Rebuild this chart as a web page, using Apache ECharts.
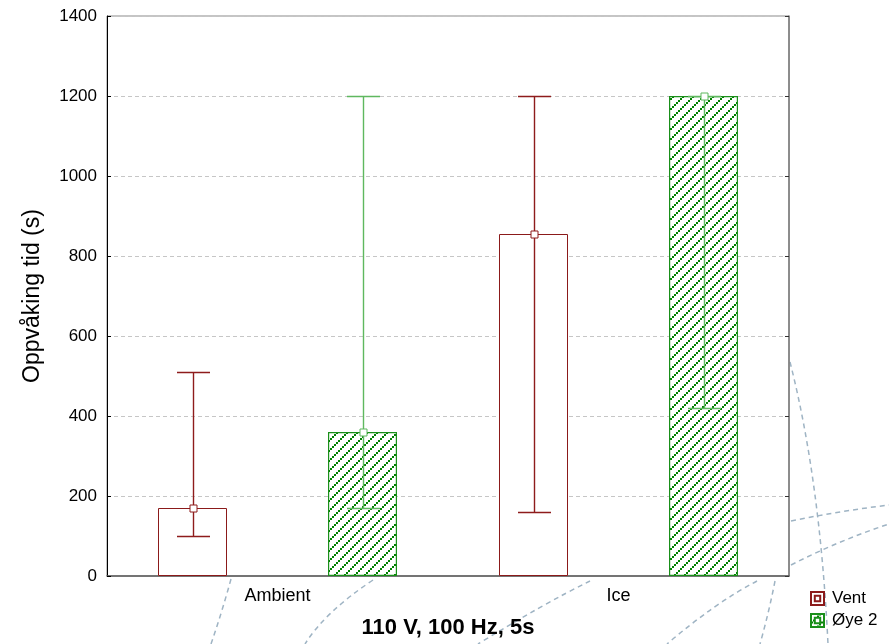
<!DOCTYPE html>
<html>
<head>
<meta charset="utf-8">
<script src="https://cdn.jsdelivr.net/npm/echarts@6/dist/echarts.min.js"></script>
<style>
html,body{margin:0;padding:0;background:#fff;}
#chart{width:889px;height:644px;}
</style>
</head>
<body>
<div id="chart"></div>
<script>
// ---- data ----
const categories = ['Ambient', 'Ice'];
const seriesNames = ['Vent', 'Øye 2'];
const ventMean = [170, 855];
const ventLow = [100, 160];
const ventHigh = [510, 1200];
const oyeMean = [360, 1200];
const oyeLow = [170, 420];
const oyeHigh = [1200, 1200];
const yTicks = { min: 0, max: 1400, interval: 200 };
const yTitle = 'Oppvåking tid (s)';
const xTitle = '110 V, 100 Hz, 5s';

// ---- styles ----
const FONT = '"Liberation Sans", Arial, sans-serif';
const RED = '#8b1a1a';
const RED_WHISK = '#8e1c1c';
const GREEN = '#1a8f1a';
const GREEN_WHISK = '#5fb85f';
const BAR_W = 69;
const BAR_GAP_PX = 101;
const OFFSET = (BAR_W + BAR_GAP_PX) / 2;
const CAP_W = 33;

function makePattern() {
  const n = 10;
  const c = document.createElement('canvas');
  c.width = n; c.height = n;
  const g = c.getContext('2d');
  g.fillStyle = '#ffffff';
  g.fillRect(0, 0, n, n);
  g.fillStyle = '#008000';
  [[0, 8], [2, 6], [4, 4], [6, 2], [8, 0]].forEach(p => g.fillRect(p[0], p[1], 2, 2));
  return c;
}
const hatch = { image: makePattern(), repeat: 'repeat' };

function errRender(sign, stroke) {
  return function (params, api) {
    const cat = api.value(0);
    const lo = api.coord([cat, api.value(1)]);
    const hi = api.coord([cat, api.value(2)]);
    const mid = api.coord([cat, api.value(3)]);
    const x = Math.round(lo[0] + sign * OFFSET) + 0.5;
    const hw = CAP_W / 2;
    const ly = Math.round(lo[1]) + 0.5, hy = Math.round(hi[1]) + 0.5, my = Math.round(mid[1]) + 0.5;
    return {
      type: 'group',
      children: [
        { type: 'line', shape: { x1: x, y1: hy, x2: x, y2: ly }, style: { stroke: stroke, lineWidth: 1.4 } },
        { type: 'line', shape: { x1: x - hw, y1: hy, x2: x + hw, y2: hy }, style: { stroke: stroke, lineWidth: 1.4 } },
        { type: 'line', shape: { x1: x - hw, y1: ly, x2: x + hw, y2: ly }, style: { stroke: stroke, lineWidth: 1.4 } },
        { type: 'rect', shape: { x: x - 3.5, y: my - 3.5, width: 7, height: 7 }, style: { fill: '#fff', stroke: stroke, lineWidth: 1 } }
      ]
    };
  };
}

function curve(x1, y1, cx, cy, x2, y2) {
  return {
    type: 'bezierCurve', silent: true, z: -10,
    shape: { x1: x1, y1: y1, cpx1: cx, cpy1: cy, x2: x2, y2: y2 },
    style: { stroke: '#9fb4c4', lineWidth: 1.5, lineDash: [5, 4], fill: null }
  };
}

const LEGEND_ICON = 'path://M0,0H12V12H0Z M3.5,3.5V8.5H8.5V3.5Z';

const chart = echarts.init(document.getElementById('chart'), null, { renderer: 'canvas' });
const option = {
  animation: false,
  backgroundColor: '#ffffff',
  textStyle: { fontFamily: FONT },
  grid: { left: 107, right: 100, top: 16, bottom: 67, show: true, borderColor: '#8a8a8a', borderWidth: 1, backgroundColor: 'transparent' },
  legend: {
    orient: 'vertical', left: 805, top: 585, itemWidth: 13, itemHeight: 14, itemGap: 5,
    selectedMode: false, icon: LEGEND_ICON,
    textStyle: { fontSize: 17, color: '#000', fontFamily: FONT, padding: [0, 0, 0, 3] },
    data: seriesNames
  },
  xAxis: {
    type: 'category', data: categories,
    axisLine: { lineStyle: { color: '#5a5a5a', width: 1.5 } },
    axisTick: { inside: true, alignWithLabel: true, length: 4, lineStyle: { color: '#333' } },
    axisLabel: { fontSize: 18, color: '#000', margin: 11, fontFamily: FONT },
    name: xTitle, nameLocation: 'middle', nameGap: 41,
    nameTextStyle: { fontSize: 22, fontWeight: 'bold', color: '#000', fontFamily: FONT }
  },
  yAxis: [{
    type: 'value', min: yTicks.min, max: yTicks.max, interval: yTicks.interval,
    axisLine: { show: true, lineStyle: { color: '#000', width: 1 } },
    axisTick: { show: true, inside: true, length: 4, lineStyle: { color: '#000' } },
    axisLabel: { fontSize: 17, color: '#000', margin: 10, fontFamily: FONT, formatter: v => String(v) },
    splitLine: { show: true, lineStyle: { type: [4, 3], color: '#c6c6c6', width: 1 } },
    name: yTitle, nameLocation: 'middle', nameGap: 63,
    nameTextStyle: { fontSize: 23, color: '#000', fontFamily: FONT }
  }, {
    type: 'value', position: 'right', min: yTicks.min, max: yTicks.max, interval: yTicks.interval,
    axisLine: { show: true, lineStyle: { color: '#7a7a7a', width: 1.5 } },
    axisTick: { show: true, inside: true, length: 4, lineStyle: { color: '#333' } },
    axisLabel: { show: false },
    splitLine: { show: false }
  }],
  series: [
    {
      name: seriesNames[0], type: 'bar', data: ventMean, barWidth: BAR_W, barGap: (BAR_GAP_PX / BAR_W * 100) + '%',
      itemStyle: { color: '#ffffff', borderColor: RED, borderWidth: 1 }, z: 2
    },
    {
      name: seriesNames[1], type: 'bar', data: oyeMean, barWidth: BAR_W,
      itemStyle: { color: hatch, borderColor: GREEN, borderWidth: 1.2 }, z: 2
    },
    {
      name: seriesNames[0], type: 'custom', z: 5,
      renderItem: errRender(-1, RED_WHISK),
      encode: { x: 0, y: [1, 2, 3] },
      data: categories.map((c, i) => [i, ventLow[i], ventHigh[i], ventMean[i]])
    },
    {
      name: seriesNames[1], type: 'custom', z: 5,
      renderItem: errRender(1, GREEN_WHISK),
      encode: { x: 0, y: [1, 2, 3] },
      data: categories.map((c, i) => [i, oyeLow[i], oyeHigh[i], oyeMean[i]])
    }
  ],
  graphic: [
    curve(790, 362, 820, 480, 828, 644),
    curve(791, 521, 840, 511, 889, 505),
    curve(791, 565, 840, 540, 889, 524),
    curve(231, 579, 222, 612, 211, 644),
    curve(373, 580, 325, 612, 305, 644),
    curve(590, 581, 545, 603, 478, 644),
    curve(757, 581, 715, 603, 667, 644),
    curve(775, 581, 769, 612, 760, 644)
  ]
};
chart.setOption(option);
</script>
</body>
</html>
